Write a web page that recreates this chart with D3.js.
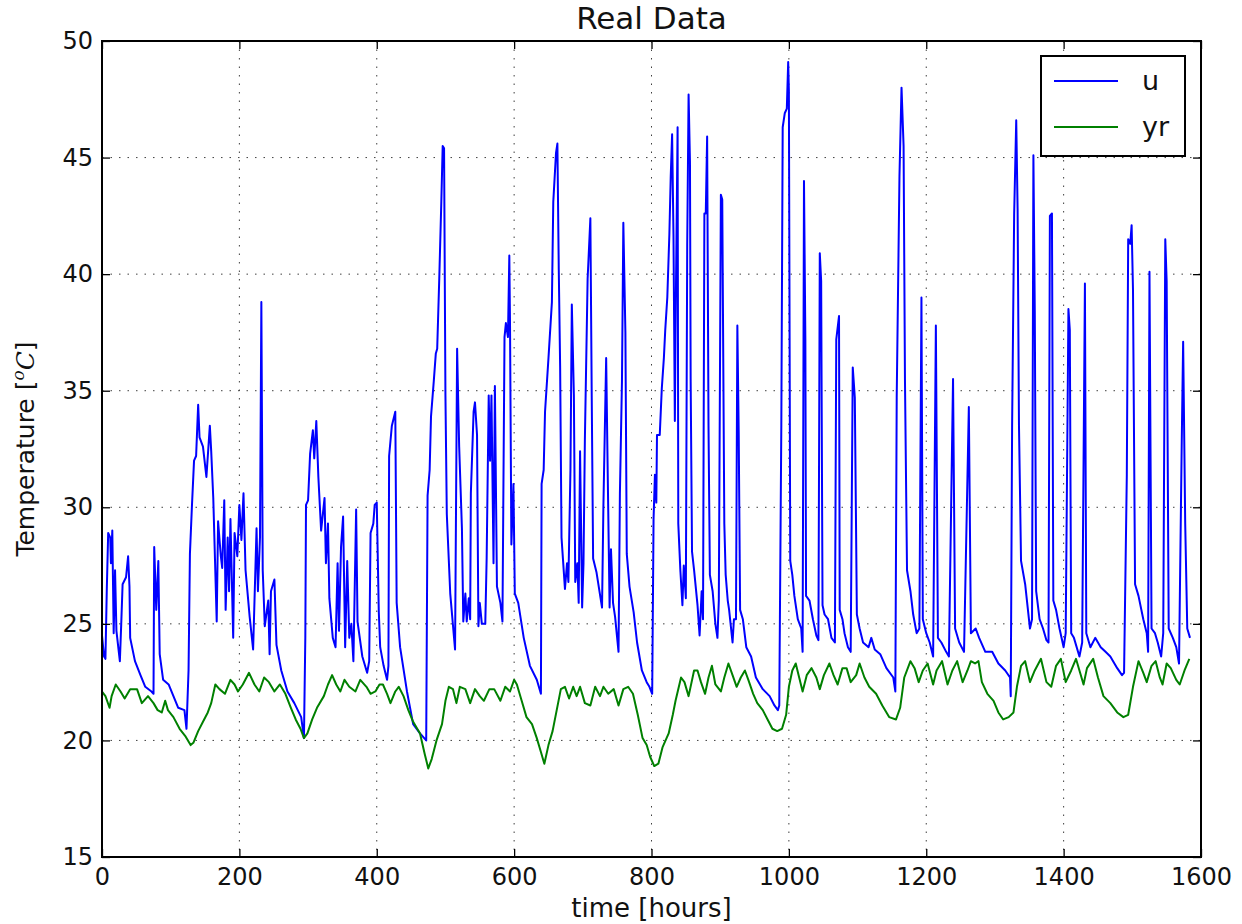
<!DOCTYPE html>
<html>
<head>
<meta charset="utf-8">
<script src="https://cdn.jsdelivr.net/npm/d3@7"></script>
<style>
  body { margin: 0; background: #fff; }
  svg { font-family: "DejaVu Sans", sans-serif; }
</style>
</head>
<body>
<svg id="chart" width="1242" height="924"></svg>
<script>
// waarden (uur, temperatuur)
const uHours = [0,3,5,7,9,12,13,15,17,19,21,26,28,30,35,38,40,41,48,56,63,72,75,76,79,82,84,89,97,104,111,120,123,126,128,131,134,137,140,142,147,152,157,159,162,167,169,173,175,178,180,183,185,187,191,193,197,200,203,206,209,215,220,225,227,230,232,234,237,242,244,246,251,254,261,270,280,290,294,296,297,300,303,307,309,312,315,319,324,326,329,331,336,340,343,345,348,351,354,357,360,363,366,370,372,379,386,389,391,395,397,400,403,405,410,415,417,418,422,427,429,434,444,453,463,472,474,477,479,483,486,488,491,494,496,498,500,502,507,514,517,520,524,526,529,531,534,536,537,541,543,546,548,550,553,558,560,563,565,567,570,572,575,580,583,586,588,591,593,594,596,599,601,606,614,623,633,639,640,643,645,650,655,657,661,663,665,667,669,674,677,679,682,684,687,689,692,694,696,699,701,703,707,711,713,715,720,728,730,734,736,739,741,744,747,752,754,757,759,762,764,768,774,779,786,793,797,801,803,805,807,808,812,815,818,820,823,826,828,830,832,834,835,838,839,842,845,847,850,852,854,856,857,859,862,867,870,873,875,877,879,881,883,885,889,893,896,898,901,903,906,908,911,913,918,920,923,925,927,929,933,938,945,952,962,972,979,984,986,989,991,994,997,999,1000,1002,1005,1008,1013,1018,1020,1022,1024,1025,1030,1035,1040,1043,1045,1047,1049,1052,1057,1062,1067,1069,1073,1074,1078,1081,1086,1090,1093,1096,1099,1103,1108,1116,1120,1125,1133,1142,1152,1155,1157,1161,1164,1167,1169,1172,1177,1181,1186,1190,1193,1195,1200,1205,1210,1214,1217,1222,1229,1233,1239,1242,1248,1255,1262,1265,1272,1277,1286,1296,1305,1315,1322,1323,1325,1328,1331,1333,1335,1338,1344,1351,1354,1356,1358,1360,1365,1370,1375,1378,1380,1383,1385,1389,1394,1400,1403,1407,1409,1411,1415,1423,1427,1431,1433,1439,1446,1454,1461,1468,1478,1485,1488,1492,1494,1497,1499,1501,1504,1509,1516,1521,1523,1525,1528,1533,1537,1542,1545,1548,1550,1553,1559,1564,1568,1572,1574,1577,1580,1584]
const uTemps = [24.5,23.6,23.5,26.5,28.9,28.7,27.6,29.0,24.6,27.3,24.7,23.4,25.0,26.7,27.0,27.9,26.6,24.4,23.4,22.8,22.3,22.1,22.0,28.3,25.6,27.7,23.7,22.6,22.4,21.9,21.4,21.3,20.5,23.0,28.0,30.1,32.0,32.2,34.4,33.0,32.6,31.3,33.5,32.4,30.4,25.1,29.4,27.9,27.4,30.3,25.6,28.7,26.4,29.5,24.4,28.9,27.9,30.1,28.6,30.6,27.3,25.3,23.9,29.1,26.4,28.7,38.8,27.3,24.9,26.0,23.7,26.4,26.9,24.1,23.0,22.1,21.6,21.0,20.1,24.4,30.1,30.3,32.3,33.3,32.1,33.7,31.3,29.0,30.4,27.6,29.3,26.1,24.4,24.0,27.6,24.7,28.3,29.6,24.0,27.7,24.4,25.0,23.4,29.9,25.1,23.6,22.9,23.4,28.9,29.3,30.1,30.2,25.5,24.0,23.2,22.6,23.2,32.2,33.5,34.1,25.9,24.0,22.1,20.7,20.3,20.0,30.5,31.6,33.9,35.4,36.6,36.8,39.8,43.1,45.5,45.4,34.8,29.7,26.3,23.9,36.8,32.6,29.1,25.1,26.3,25.1,26.1,25.2,30.6,34.1,34.5,33.1,24.9,25.9,25.0,25.0,27.8,34.8,32.0,34.8,27.6,35.2,26.6,25.9,25.1,37.3,37.9,37.3,40.8,37.9,28.4,31.0,26.3,25.9,24.4,23.2,22.6,22.0,31.0,31.6,34.1,36.4,38.8,43.1,45.2,45.6,40.2,36.0,28.7,26.5,27.6,26.8,31.6,38.7,34.8,26.8,27.6,25.9,32.4,25.7,27.6,32.9,39.8,42.4,34.7,27.8,27.2,25.7,30.1,36.4,32.0,25.7,28.2,25.9,25.3,23.8,30.6,35.4,42.2,37.5,28.0,26.6,25.5,24.2,23.0,22.5,22.3,22.0,29.5,31.4,30.2,33.1,33.1,35.1,36.4,37.6,39.0,41.7,44.2,46.0,41.7,33.7,37.6,46.3,29.3,27.3,25.8,27.5,26.1,41.3,47.7,44.8,35.5,28.1,27.3,25.8,24.5,26.4,25.2,42.6,42.6,45.9,33.5,27.1,26.4,25.0,24.4,26.0,43.4,43.2,29.3,27.1,26.0,25.6,24.2,25.2,25.2,37.8,33.1,25.6,25.2,24.0,23.6,22.7,22.2,21.9,21.5,21.3,21.5,33.5,46.3,46.9,47.1,49.1,47.9,27.7,27.1,26.2,25.2,24.8,23.8,44.0,37.2,26.2,26.0,25.2,24.5,24.3,40.9,39.7,25.8,25.4,25.2,24.4,24.2,37.2,38.2,25.6,25.2,24.6,24.0,23.8,36.0,34.7,25.4,24.8,24.2,24.0,24.4,23.9,23.7,23.1,22.7,22.1,34.7,44.2,48.0,45.5,35.5,27.3,26.4,25.4,24.6,24.8,39.0,25.2,24.6,24.2,23.6,37.8,24.4,24.2,23.8,23.6,35.5,24.8,24.2,23.8,34.3,24.6,24.8,24.4,23.8,23.8,23.3,23.0,22.7,21.9,33.5,42.6,46.6,42.8,33.5,27.7,26.7,24.8,25.2,45.1,38.4,26.4,25.2,24.8,24.3,24.2,42.5,42.6,26.0,25.6,24.8,24.0,24.6,38.5,37.6,24.6,24.4,23.6,24.2,39.6,24.6,24.0,24.4,24.0,23.8,23.6,23.1,22.8,22.9,31.4,41.5,41.3,42.1,39.3,26.7,26.2,25.2,24.6,23.8,40.1,24.8,24.6,24.2,23.6,24.6,41.5,39.7,24.8,24.4,24.0,23.3,32.9,37.1,29.3,24.8,24.4]

const yrHours = [0,5,11,14,20,27,33,41,51,58,67,75,81,87,92,96,104,113,121,129,133,140,147,154,159,165,171,179,187,193,198,205,214,222,229,236,243,251,259,267,275,282,289,294,299,306,313,323,329,335,341,347,353,360,369,376,385,391,398,404,409,415,420,427,432,439,446,453,463,470,475,480,487,495,500,505,511,516,521,529,536,543,550,556,564,571,580,587,594,600,604,611,618,626,633,639,644,650,656,662,668,674,680,686,691,696,703,711,718,725,730,737,745,752,759,766,773,780,787,793,798,804,810,816,825,831,835,843,848,854,862,867,872,878,883,888,893,901,906,912,918,924,930,936,941,948,954,962,969,976,983,990,996,1000,1005,1010,1015,1020,1026,1033,1040,1045,1051,1059,1065,1071,1078,1084,1090,1098,1103,1110,1117,1127,1136,1146,1156,1162,1168,1177,1183,1189,1195,1202,1210,1215,1223,1231,1238,1245,1253,1260,1265,1271,1276,1281,1289,1298,1305,1312,1320,1327,1332,1338,1344,1351,1358,1367,1375,1382,1389,1396,1403,1411,1418,1424,1429,1434,1443,1450,1458,1468,1478,1487,1494,1501,1509,1516,1521,1528,1534,1540,1544,1550,1556,1564,1569,1576,1583]
const yrTemps = [22.1,21.9,21.4,21.9,22.4,22.1,21.8,22.2,22.2,21.6,21.9,21.6,21.3,21.2,21.7,21.3,21.0,20.5,20.2,19.8,19.9,20.4,20.8,21.2,21.6,22.4,22.2,22.0,22.6,22.4,22.1,22.4,22.9,22.4,22.1,22.7,22.5,22.1,22.4,22.0,21.4,20.9,20.5,20.1,20.3,20.9,21.4,21.9,22.4,22.8,22.4,22.1,22.6,22.3,22.1,22.6,22.3,22.0,22.1,22.4,22.4,22.0,21.6,22.1,22.3,21.9,21.3,20.8,20.3,19.4,18.8,19.2,20.0,20.7,21.7,22.3,22.2,21.6,22.3,22.2,21.6,22.2,21.9,21.7,22.2,22.2,21.7,22.3,22.1,22.6,22.4,21.7,21.0,20.7,20.1,19.5,19.0,19.8,20.4,21.3,22.2,22.3,21.8,22.3,21.9,22.3,21.6,21.5,22.3,21.9,22.3,22.0,22.2,21.5,22.2,22.3,22.0,21.1,20.1,19.8,19.3,18.9,19.0,19.7,20.3,21.1,21.7,22.7,22.5,21.9,23.0,23.0,22.5,22.0,22.7,23.2,22.4,22.1,22.7,23.3,22.8,22.3,22.7,23.0,22.6,22.0,21.6,21.3,20.9,20.5,20.4,20.5,21.1,22.3,23.0,23.3,22.7,22.1,22.8,23.1,22.7,22.2,22.8,23.3,22.8,22.4,23.1,23.1,22.5,22.8,23.3,22.7,22.3,22.0,21.5,21.0,20.9,21.4,22.7,23.4,23.1,22.5,23.0,23.3,22.4,23.0,23.4,22.4,23.0,23.4,22.5,23.0,23.4,23.3,23.4,22.5,22.0,21.7,21.2,20.9,21.0,21.2,22.3,23.2,23.4,22.5,23.0,23.5,22.5,22.3,23.2,23.5,22.5,23.0,23.5,22.9,22.4,23.1,23.5,22.7,21.9,21.6,21.2,21.0,21.1,22.3,23.4,22.9,22.5,23.2,23.4,22.7,22.4,23.3,23.1,22.6,22.4,23.0,23.5]

const xTicks = [0, 200, 400, 600, 800, 1000, 1200, 1400, 1600]
const yTicks = [15, 20, 25, 30, 35, 40, 45, 50]
const seriesNames = ["u", "yr"]
const seriesColours = ["#0000ff", "#008000"]

if (uHours.length !== uTemps.length) throw new Error(`u lengths ${uHours.length} vs ${uTemps.length}`)
if (yrHours.length !== yrTemps.length) throw new Error(`yr lengths ${yrHours.length} vs ${yrTemps.length}`)

const plotLeft = 102, plotRight = 1201, plotTop = 41, plotBottom = 857

const svg = d3.select("#chart")

const x = d3.scaleLinear().domain([0, 1600]).range([plotLeft, plotRight])
const y = d3.scaleLinear().domain([15, 50]).range([plotBottom, plotTop])

svg.append("defs").append("clipPath").attr("id", "plotclip")
  .append("rect").attr("x", plotLeft).attr("y", plotTop)
  .attr("width", plotRight - plotLeft).attr("height", plotBottom - plotTop)

// raster
const grid = svg.append("g").attr("stroke", "#000").attr("stroke-width", 1)
  .attr("stroke-dasharray", "1.5,7").attr("opacity", 0.75)
grid.selectAll(".gx").data(xTicks.slice(1, -1)).join("line")
  .attr("x1", d => x(d)).attr("x2", d => x(d)).attr("y1", plotTop).attr("y2", plotBottom)
grid.selectAll(".gy").data(yTicks.slice(1, -1)).join("line")
  .attr("x1", plotLeft).attr("x2", plotRight).attr("y1", d => y(d)).attr("y2", d => y(d))

// lijnen
const line = d3.line().x(d => x(d[0])).y(d => y(d[1]))
const uData = d3.zip(uHours, uTemps)
const yrData = d3.zip(yrHours, yrTemps)

const plot = svg.append("g").attr("clip-path", "url(#plotclip)")
plot.append("path").datum(uData).attr("d", line)
  .attr("fill", "none").attr("stroke", seriesColours[0]).attr("stroke-width", 2)
  .attr("stroke-linejoin", "round")
plot.append("path").datum(yrData).attr("d", line)
  .attr("fill", "none").attr("stroke", seriesColours[1]).attr("stroke-width", 2)
  .attr("stroke-linejoin", "round")

// assen, ticks naar binnen
const tickLen = 8
const fmt = d3.format("d")
const bottomAxis = svg.append("g").attr("transform", `translate(0,${plotBottom})`)
  .call(d3.axisBottom(x).tickValues(xTicks).tickFormat(fmt).tickSize(-tickLen).tickPadding(10))
svg.append("g").attr("transform", `translate(${plotLeft},0)`)
  .call(d3.axisLeft(y).tickValues(yTicks).tickFormat(fmt).tickSize(-tickLen).tickPadding(9))
svg.append("g").attr("transform", `translate(0,${plotTop})`)
  .call(d3.axisTop(x).tickValues(xTicks).tickSize(-tickLen).tickFormat(""))
svg.append("g").attr("transform", `translate(${plotRight},0)`)
  .call(d3.axisRight(y).tickValues(yTicks).tickSize(-tickLen).tickFormat(""))

svg.selectAll(".domain").remove()
svg.selectAll(".tick line").attr("stroke", "#000").attr("stroke-width", 1.3)
svg.selectAll(".tick text").attr("fill", "#111").style("font-size", "24px")
  .style("font-family", "DejaVu Sans, sans-serif")
bottomAxis.selectAll(".tick text").attr("dy", "0.75em")

svg.append("rect").attr("x", plotLeft).attr("y", plotTop)
  .attr("width", plotRight - plotLeft).attr("height", plotBottom - plotTop)
  .attr("fill", "none").attr("stroke", "#000").attr("stroke-width", 2)

// titels
svg.append("text").attr("x", (plotLeft + plotRight) / 2).attr("y", 29)
  .attr("text-anchor", "middle").style("font-size", "31px").attr("fill", "#111")
  .text("Real Data")

svg.append("text").attr("x", (plotLeft + plotRight) / 2).attr("y", 917)
  .attr("text-anchor", "middle").style("font-size", "26px").attr("fill", "#111")
  .text("time [hours]")

const ylab = svg.append("text")
  .attr("transform", `translate(34,${(plotTop + plotBottom) / 2}) rotate(-90)`)
  .attr("text-anchor", "middle").style("font-size", "25px").attr("fill", "#111")
ylab.append("tspan").text("Temperature [")
ylab.append("tspan").attr("baseline-shift", "super").style("font-size", "17px")
  .style("font-style", "italic").style("font-family", "DejaVu Serif, serif").text("o")
ylab.append("tspan").style("font-style", "italic").style("font-family", "DejaVu Serif, serif").text("C")
ylab.append("tspan").text("]")

// legenda
const legend = svg.append("g")
legend.append("rect").attr("x", 1041).attr("y", 56).attr("width", 144).attr("height", 100)
  .attr("fill", "#fff").attr("stroke", "#000").attr("stroke-width", 2)
seriesNames.forEach((name, i) => {
  const ly = 81 + i * 46
  legend.append("line").attr("x1", 1054).attr("x2", 1118).attr("y1", ly).attr("y2", ly)
    .attr("stroke", seriesColours[i]).attr("stroke-width", 2)
  legend.append("text").attr("x", 1142).attr("y", ly + 9)
    .style("font-size", "27px").attr("fill", "#111").text(name)
})
</script>
</body>
</html>
